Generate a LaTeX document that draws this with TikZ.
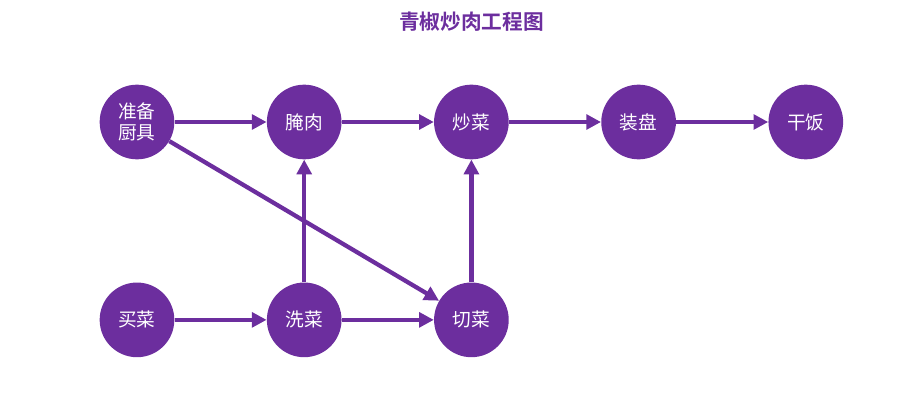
\documentclass[tikz,border=0pt]{standalone}
\usepackage{fontspec}
\setmainfont{Noto Sans CJK SC}[BoldFont={Noto Sans CJK SC Bold}]
\usepackage{tikz}
\usetikzlibrary{positioning,arrows.meta,calc}
\definecolor{zipurple}{RGB}{108,46,158}

\begin{document}
\begin{tikzpicture}[node distance=69pt, >={Triangle[length=11pt,width=11pt]},
  stepnode/.style={circle, fill=zipurple, text=white, inner sep=0pt, minimum size=56pt, font=\fontsize{14}{16}\selectfont, align=center},
  flow/.style={->, draw=zipurple, line width=3.2pt}]
  \node[stepnode] (ZB) {准备\\厨具};
  \node[stepnode, right=of ZB] (YR) {腌肉};
  \node[stepnode, right=of YR] (CC) {炒菜};
  \node[stepnode, right=of CC] (ZP) {装盘};
  \node[stepnode, right=of ZP] (GF) {干饭};
  \node[stepnode, below=92pt of ZB] (MC) {买菜};
  \node[stepnode, right=of MC] (XC) {洗菜};
  \node[stepnode, right=of XC] (QC) {切菜};
  \node[above=36pt of CC, text=zipurple, font=\fontsize{15.5}{18}\selectfont\bfseries] (title) {青椒炒肉工程图};
  \useasboundingbox ($(ZB)+(-102.75pt,91.5pt)$) rectangle ($(ZB)+(574.5pt,-219pt)$);

  \draw[flow] (ZB) -- (YR);
  \draw[flow] (YR) -- (CC);
  \draw[flow] (CC) -- (ZP);
  \draw[flow] (ZP) -- (GF);
  \draw[flow] (MC) -- (XC);
  \draw[flow] (XC) -- (QC);
  \draw[flow] (XC) -- (YR);
  \draw[flow] (QC) -- (CC);
  \draw[flow] (ZB) -- (QC);
\end{tikzpicture}
\end{document}
